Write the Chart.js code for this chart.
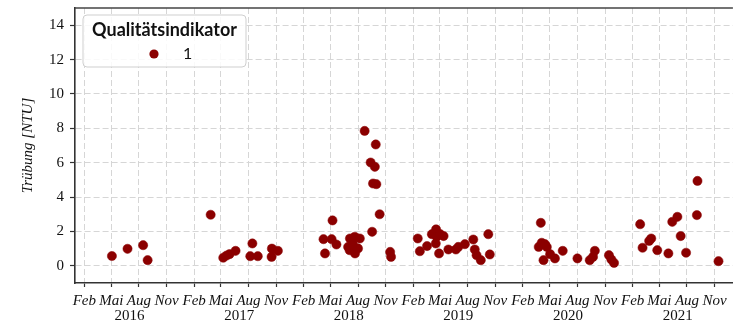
<!DOCTYPE html>
<html lang="de">
<head>
<meta charset="utf-8">
<title>Trübung</title>
<script src="https://cdn.jsdelivr.net/npm/chart.js@4/dist/chart.umd.min.js"></script>
<style>
  html, body { margin: 0; padding: 0; background: #fff; overflow: hidden; width: 733px; height: 324px; }
  canvas { display: block; }
</style>
</head>
<body>
<canvas id="chart" width="738" height="324"></canvas>
<script>
// Probenahmetermine und gemessene Trübung (NTU), Qualitätsindikator 1
const sampleDates = [
  '2016-05-03', '2016-06-24', '2016-08-15', '2016-08-30',
  '2017-03-28', '2017-05-09', '2017-05-20', '2017-05-30', '2017-06-19', '2017-08-07',
  '2017-08-14', '2017-09-01', '2017-10-18', '2017-10-17', '2017-11-07',
  '2018-04-08', '2018-04-13', '2018-05-05', '2018-05-08', '2018-05-21', '2018-06-29',
  '2018-07-05', '2018-07-04', '2018-07-13', '2018-07-16', '2018-07-21', '2018-07-22',
  '2018-08-01', '2018-08-07', '2018-08-23', '2018-09-12', '2018-09-17', '2018-09-20',
  '2018-09-26', '2018-09-29', '2018-10-01', '2018-10-12', '2018-11-16', '2018-11-19',
  '2019-02-16', '2019-02-23', '2019-03-19', '2019-04-04', '2019-04-18', '2019-04-17',
  '2019-04-20', '2019-04-28', '2019-05-02', '2019-05-13', '2019-05-29', '2019-06-23',
  '2019-07-01', '2019-07-23', '2019-08-20', '2019-08-25', '2019-08-31', '2019-09-14',
  '2019-10-09', '2019-10-14',
  '2020-03-25', '2020-04-01', '2020-04-04', '2020-04-10', '2020-04-15', '2020-04-21',
  '2020-05-02', '2020-05-18', '2020-06-13', '2020-08-01', '2020-09-11', '2020-09-22',
  '2020-09-28', '2020-11-14', '2020-11-22', '2020-12-01',
  '2021-02-26', '2021-03-06', '2021-03-28', '2021-04-04', '2021-04-24', '2021-05-31',
  '2021-06-13', '2021-06-30', '2021-07-11', '2021-07-29', '2021-09-03', '2021-09-05',
  '2021-11-14'
];
const turbidity = [
  0.57, 0.99, 1.2, 0.33,
  2.97, 0.47, 0.6, 0.68, 0.87, 0.56,
  1.3, 0.56, 1.0, 0.52, 0.87,
  1.55, 0.72, 1.55, 2.64, 1.24, 1.1,
  1.59, 0.91, 1.4, 1.2, 1.69, 0.72,
  1.01, 1.59, 7.85, 6.01, 1.98, 4.79,
  5.76, 7.06, 4.75, 3.0, 0.81, 0.52,
  1.59, 0.85, 1.15, 1.84, 2.12, 1.3,
  1.69, 0.72, 1.84, 1.73, 0.95, 0.95,
  1.1, 1.26, 1.53, 0.95, 0.62, 0.33,
  1.84, 0.66,
  1.1, 2.5, 1.34, 0.33, 1.26, 1.1,
  0.68, 0.43, 0.87, 0.43, 0.33, 0.52,
  0.87, 0.62, 0.37, 0.17,
  2.42, 1.05, 1.45, 1.59, 0.91, 0.72,
  2.56, 2.85, 1.73, 0.76, 2.95, 4.94,
  0.27
];
const qualityLabel = '1';
const legendTitle = 'Qualitätsindikator';
const yAxisTitle = 'Trübung [NTU]';

// Achsenbeschriftungen
const years = [2016, 2017, 2018, 2019, 2020, 2021];
const monthNames = ['Feb', 'Mai', 'Aug', 'Nov'];
const monthIndex = [1, 4, 7, 10];
const yTicks = [0, 2, 4, 6, 8, 10, 12, 14];
const rangeStart = '2016-01-01';
const rangeEnd = '2022-01-01';

const toTime = s => {
  const [y, m, d] = s.split('-').map(Number);
  return Date.UTC(y, m - 1, d);
};

const points = sampleDates.map((d, i) => ({ x: toTime(d), y: turbidity[i] }));

// Monatsmarken (mit Gitterlinie) und Jahresbeschriftung zur Jahresmitte (ohne Linie)
const xTickList = [];
years.forEach(y => {
  monthIndex.forEach(m => xTickList.push({ value: Date.UTC(y, m, 1), year: false }));
  xTickList.push({ value: Date.UTC(y, 6, 1), year: true });
});
xTickList.sort((a, b) => a.value - b.value);
const isYearTick = v => xTickList.some(t => t.year && t.value === v);

const serif = 'Liberation Serif, Times New Roman, serif';
const gridColor = '#d6d6d6';
const axisColor = '#333333';
const markColor = '#8b0000';

// Rahmenlinie oben
const topFrame = {
  id: 'topFrame',
  afterDraw(chart) {
    const { ctx, chartArea: a } = chart;
    ctx.save();
    ctx.strokeStyle = '#444';
    ctx.lineWidth = 1.6;
    ctx.beginPath();
    ctx.moveTo(a.left, a.top);
    ctx.lineTo(a.right, a.top);
    ctx.stroke();
    ctx.restore();
  }
};

// Legende im Diagrammbereich oben links
const insetLegend = {
  id: 'insetLegend',
  afterDraw(chart) {
    const { ctx, chartArea: a } = chart;
    const ds = chart.data.datasets[0];
    const x = a.left + 8, y = a.top + 7, w = 163, h = 52, r = 4;
    ctx.save();
    ctx.beginPath();
    ctx.roundRect(x, y, w, h, r);
    ctx.fillStyle = 'rgba(255,255,255,0.85)';
    ctx.fill();
    ctx.strokeStyle = '#cfcfcf';
    ctx.lineWidth = 1;
    ctx.stroke();

    ctx.fillStyle = '#111';
    ctx.font = 'bold 18px Lato, "Noto Sans", sans-serif';
    ctx.textAlign = 'center';
    ctx.textBaseline = 'middle';
    ctx.fillText(legendTitle, x + w / 2, y + 15);

    ctx.beginPath();
    ctx.arc(x + 71, y + 39, 4.6, 0, Math.PI * 2);
    ctx.fillStyle = ds.backgroundColor;
    ctx.fill();

    ctx.fillStyle = '#111';
    ctx.font = '16px Lato, "Noto Sans", sans-serif';
    ctx.textAlign = 'left';
    ctx.fillText(ds.label, x + 100, y + 39);
    ctx.restore();
  }
};

new Chart(document.getElementById('chart'), {
  type: 'scatter',
  data: {
    datasets: [{
      label: qualityLabel,
      data: points,
      backgroundColor: markColor,
      borderColor: markColor,
      borderWidth: 0.5,
      pointRadius: 4.6,
      pointHoverRadius: 4.6
    }]
  },
  options: {
    responsive: false,
    devicePixelRatio: 1,
    animation: false,
    layout: { padding: { top: 8, left: 0, right: 0, bottom: 0 } },
    plugins: {
      legend: { display: false },
      tooltip: { enabled: false }
    },
    scales: {
      x: {
        type: 'linear',
        position: 'bottom',
        min: toTime(rangeStart),
        max: toTime(rangeEnd),
        afterBuildTicks: s => { s.ticks = xTickList.map(t => ({ value: t.value })); },
        afterFit: s => {
          s.height = 41;
          s.paddingLeft = 0;
          s.paddingRight = 0;
        },
        grid: {
          color: c => (c.tick && isYearTick(c.tick.value)) ? 'rgba(0,0,0,0)' : gridColor,
          lineWidth: 1,
          tickColor: c => (c.tick && isYearTick(c.tick.value)) ? 'rgba(0,0,0,0)' : axisColor,
          tickLength: 4,
          tickWidth: 1.2,
          tickBorderDash: []
        },
        border: { display: true, color: axisColor, width: 1.6, dash: [6, 3] },
        ticks: {
          autoSkip: false,
          maxRotation: 0,
          minRotation: 0,
          padding: 7,
          color: '#111',
          font: c => (c.tick && isYearTick(c.tick.value))
            ? { family: serif, size: 15, lineHeight: 0.96 }
            : { family: serif, style: 'italic', size: 15, lineHeight: 0.96 },
          callback: v => {
            const d = new Date(v);
            if (isYearTick(v)) return ['', String(d.getUTCFullYear())];
            return monthNames[monthIndex.indexOf(d.getUTCMonth())];
          }
        }
      },
      y: {
        min: -1,
        max: 15,
        afterBuildTicks: s => { s.ticks = yTicks.map(v => ({ value: v })); },
        afterFit: s => {
          s.width = 75;
          s.paddingTop = 0;
          s.paddingBottom = 0;
        },
        grid: {
          color: gridColor,
          lineWidth: 1,
          tickColor: axisColor,
          tickLength: 5,
          tickWidth: 1.2,
          tickBorderDash: []
        },
        border: { display: true, color: axisColor, width: 1.6, dash: [6, 3] },
        ticks: {
          padding: 6,
          color: '#111',
          font: { family: serif, size: 15 }
        },
        title: {
          display: true,
          text: yAxisTitle,
          color: '#111',
          font: { family: serif, style: 'italic', size: 15 },
          padding: { top: 19, bottom: 0 }
        }
      }
    }
  },
  plugins: [topFrame, insetLegend]
});
</script>
</body>
</html>
